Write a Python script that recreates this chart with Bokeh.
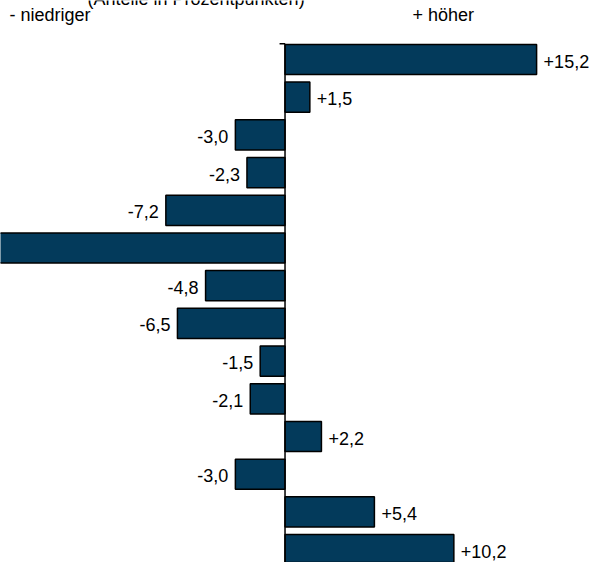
from bokeh.plotting import figure
from bokeh.models import ColumnDataSource, Range1d, Label
from bokeh.core.properties import value
from bokeh.embed import file_html
from bokeh.resources import INLINE

# data (the 6th bar is cut off at the left edge, value estimated, label not visible)
values = [15.2, 1.5, -3.0, -2.3, -7.2, -19.0, -4.8, -6.5, -1.5, -2.1, 2.2, -3.0, 5.4, 10.2]
value_labels = ["+15,2", "+1,5", "-3,0", "-2,3", "-7,2", "", "-4,8", "-6,5", "-1,5", "-2,1",
                "+2,2", "-3,0", "+5,4", "+10,2"]
title_text = "(Anteile in Prozentpunkten)"
left_text = "- niedriger"
right_text = "+ höher"

BAR = "#033A5B"
FONT = "Liberation Sans"

rows = list(range(len(values)))

W, H = 599, 562
p = figure(width=W, height=H, output_backend="svg", toolbar_location=None,
           x_range=Range1d(-17.19, 19.0), y_range=Range1d(13.342, -1.565),
           min_border=0, min_border_left=0, min_border_right=0,
           min_border_top=0, min_border_bottom=0)
p.axis.visible = False
p.grid.visible = False
p.outline_line_color = None
p.background_fill_color = "white"
p.border_fill_color = "white"

src = ColumnDataSource(dict(y=rows, v=values, zero=[0] * len(values)))
p.hbar(y="y", left="zero", right="v", height=0.8, source=src,
       fill_color=BAR, line_color="black", line_width=1.5)

# zero axis line with top tick
p.segment(x0=[0], y0=[-0.42], x1=[0], y1=[len(values) + 1], line_color="black", line_width=1.5)
p.segment(x0=[-0.33], y0=[-0.42], x1=[0], y1=[-0.42], line_color="black", line_width=1.5)

pos = ColumnDataSource(dict(y=[r for r, v, l in zip(rows, values, value_labels) if v > 0 and l],
                            v=[v for v, l in zip(values, value_labels) if v > 0 and l],
                            lab=[l for l, v in zip(value_labels, values) if v > 0 and l]))
neg = ColumnDataSource(dict(y=[r for r, v, l in zip(rows, values, value_labels) if v < 0 and l],
                            v=[v for v, l in zip(values, value_labels) if v < 0 and l],
                            lab=[l for l, v in zip(value_labels, values) if v < 0 and l]))
p.text(x="v", y="y", text="lab", source=pos, x_offset=7, y_offset=1.5,
       text_align="left", text_baseline="middle", text_font=value(FONT),
       text_font_size="18px", text_color="black")
p.text(x="v", y="y", text="lab", source=neg, x_offset=-7, y_offset=1.5,
       text_align="right", text_baseline="middle", text_font=value(FONT),
       text_font_size="18px", text_color="black")

for txt, x, yb in [(title_text, 87, -2), (left_text, 9, 14), (right_text, 412, 14)]:
    p.add_layout(Label(x=x, y=H - yb, x_units="screen", y_units="screen", text=txt,
                       text_font=FONT, text_font_size="18px", text_color="black",
                       text_baseline="alphabetic", text_align="left"))

open("out.html", "w").write(file_html(p, INLINE))
